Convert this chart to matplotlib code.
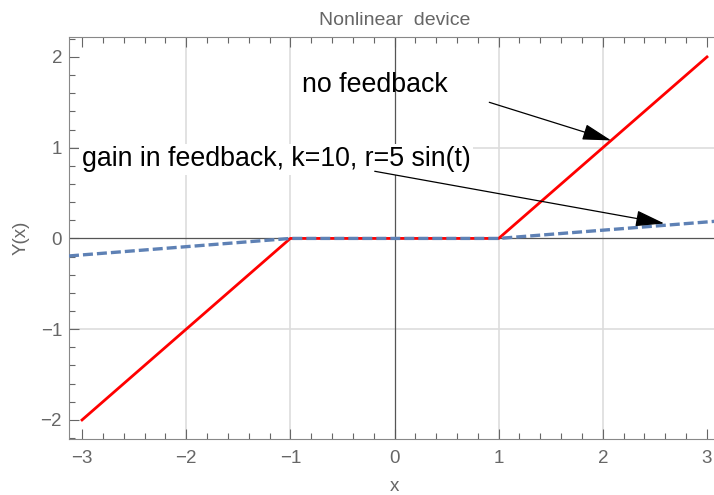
import numpy as np
import matplotlib.pyplot as plt
from matplotlib.ticker import MultipleLocator

# dead-zone characteristic, with and without gain in feedback
x_nofb = [-3.0, -1.0, 1.0, 3.0]
y_nofb = [-2.0, 0.0, 0.0, 2.0]
x_fb = [-3.125, -1.0, 1.0, 3.125]
y_fb = [-0.193, 0.0, 0.0, 0.193]

x_ticks = [-3, -2, -1, 0, 1, 2, 3]
y_ticks = [-2, -1, 0, 1, 2]
x_grid = [-2, -1, 1, 2]
y_grid = [-1, 1]

plt.rcParams['font.family'] = ['Liberation Sans', 'DejaVu Sans']

fig = plt.figure(figsize=(7.14, 4.95), dpi=100)
ax = fig.add_axes([69 / 714, 56 / 495, 651 / 714, 401.5 / 495])

gray = '#666666'
for gx in x_grid:
    ax.axvline(gx, color='#dddddd', linewidth=1.2, zorder=0)
for gy in y_grid:
    ax.axhline(gy, color='#dddddd', linewidth=1.2, zorder=0)
ax.axhline(0, color='#555555', linewidth=0.9, zorder=2)
ax.axvline(0, color='#555555', linewidth=0.9, zorder=2)

ax.plot(x_nofb, y_nofb, color='#ff0000', linewidth=2.0, zorder=3)
ax.plot(x_fb, y_fb, color='#5e81b5', linewidth=2.4, dashes=(3, 1.2), zorder=4)

ax.set_xlim(-3.125, 3.125)
ax.set_ylim(-2.21, 2.214)
ax.set_xticks(x_ticks)
ax.set_yticks(y_ticks)
ax.set_xticklabels(['\u22123', '\u22122', '\u22121', '0', '1', '2', '3'])
ax.set_yticklabels(['\u22122', '\u22121', '0', '1', '2'])
ax.xaxis.set_minor_locator(MultipleLocator(0.2))
ax.yaxis.set_minor_locator(MultipleLocator(0.2))
ax.tick_params(which='both', direction='in', colors=gray, labelcolor=gray,
               top=True, right=False, labelsize=13.5, width=0.8)
ax.tick_params(which='major', length=7)
ax.tick_params(which='minor', length=4)
ax.tick_params(axis='x', pad=8)
ax.tick_params(axis='y', pad=5)
for s in ax.spines.values():
    s.set_color('#888888')

ax.set_title('Nonlinear  device', color=gray, fontsize=14, pad=9)
ax.set_xlabel('x', color=gray, fontsize=13.5, labelpad=8)
ax.set_ylabel('Y(x)', color=gray, fontsize=13.5, labelpad=8)

arrow = dict(arrowstyle='-|>,head_length=1.8,head_width=0.5', color='black',
             linewidth=0.9, shrinkA=0, shrinkB=0)
ax.text(-0.89, 1.69, 'no feedback', fontsize=19.3, va='center', ha='left', zorder=5)
ax.annotate('', xy=(2.08, 1.08), xytext=(0.91, 1.5), arrowprops=arrow, zorder=6)
ax.text(-3.0, 0.87, 'gain in feedback, k=10, r=5 sin(t)', fontsize=19.3, va='center',
        ha='left', zorder=5,
        bbox=dict(facecolor='white', edgecolor='none', pad=2))
ax.annotate('', xy=(2.59, 0.165), xytext=(-0.19, 0.74), arrowprops=arrow, zorder=6)

fig.savefig('out.png', dpi=100)
